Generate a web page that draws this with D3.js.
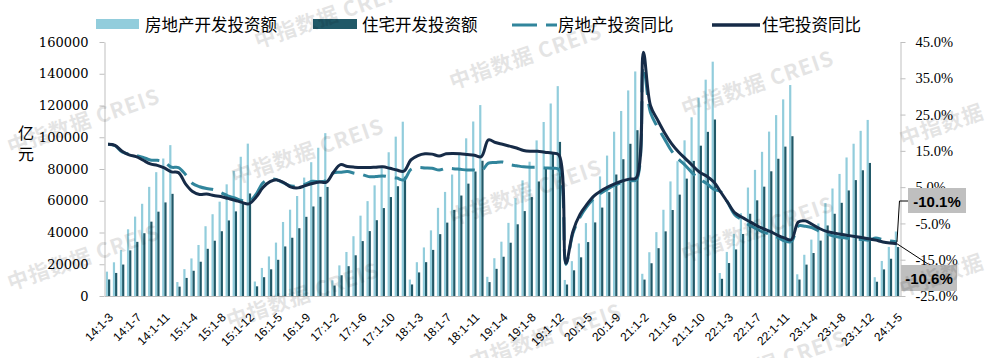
<!DOCTYPE html>
<html><head><meta charset="utf-8">
<script src="https://cdn.jsdelivr.net/npm/d3@7/dist/d3.min.js"></script>
<style>body{margin:0;background:#fff}svg{display:block}</style>
</head><body>
<svg id="chart" width="987" height="358"></svg>
<script>
// ---------- DATA ----------
const categories = [
 "14:1-3","14:1-4","14:1-5","14:1-6","14:1-7","14:1-8","14:1-9","14:1-10","14:1-11","14:1-12",
 "15:1-2","15:1-3","15:1-4","15:1-5","15:1-6","15:1-7","15:1-8","15:1-9","15:1-10","15:1-11","15:1-12",
 "16:1-2","16:1-3","16:1-4","16:1-5","16:1-6","16:1-7","16:1-8","16:1-9","16:1-10","16:1-11","16:1-12",
 "17:1-2","17:1-3","17:1-4","17:1-5","17:1-6","17:1-7","17:1-8","17:1-9","17:1-10","17:1-11","17:1-12",
 "18:1-2","18:1-3","18:1-4","18:1-5","18:1-6","18:1-7","18:1-8","18:1-9","18:1-10","18:1-11","18:1-12",
 "19:1-2","19:1-3","19:1-4","19:1-5","19:1-6","19:1-7","19:1-8","19:1-9","19:1-10","19:1-11","19:1-12",
 "20:1-2","20:1-3","20:1-4","20:1-5","20:1-6","20:1-7","20:1-8","20:1-9","20:1-10","20:1-11","20:1-12",
 "21:1-2","21:1-3","21:1-4","21:1-5","21:1-6","21:1-7","21:1-8","21:1-9","21:1-10","21:1-11","21:1-12",
 "22:1-2","22:1-3","22:1-4","22:1-5","22:1-6","22:1-7","22:1-8","22:1-9","22:1-10","22:1-11","22:1-12",
 "23:1-2","23:1-3","23:1-4","23:1-5","23:1-6","23:1-7","23:1-8","23:1-9","23:1-10","23:1-11","23:1-12",
 "24:1-2","24:1-3","24:1-4","24:1-5"
];
const xTickLabels = ["14:1-3","14:1-7","14:1-11","15:1-4","15:1-8","15:1-12","16:1-5","16:1-9","17:1-2","17:1-6","17:1-10","18:1-3","18:1-7","18:1-11","19:1-4","19:1-8","19:1-12","20:1-5","20:1-9","21:1-2","21:1-6","21:1-10","22:1-3","22:1-7","22:1-11","23:1-4","23:1-8","23:1-12","24:1-5"];
// 房地产开发投资额 (亿元)
const realEstateInvest = [
 15339,21222,28938,42019,50009,58083,68751,78001,86601,95036,
 8786,16914,23669,32140,43955,51517,59422,70339,78824,87702,95979,
 9116,17677,24921,33640,46631,54366,62982,74598,84285,93387,102581,
 9854,19292,27732,37658,50610,59761,69694,80644,90544,100387,109799,
 10357,21291,30592,41349,55531,65565,76519,88948,99325,109921,120264,
 12090,23803,34217,46075,61609,72843,84589,98008,109603,121265,132194,
 10115,21963,33103,45920,62780,75325,88454,103484,116556,129492,141443,
 13986,27576,40240,54318,72179,84895,98060,112568,124934,136275,147602,
 14499,27765,39154,52134,68314,79462,90809,103559,113945,123863,132895,
 13669,25974,35514,45701,58550,67717,76900,87269,95922,104045,110913,
 11842,22082,30928,40632
];
// 住宅开发投资额 (亿元)
const residentialInvest = [
 10419,14522,19812,28751,34106,39547,46833,53123,58946,64352,
 5899,11382,15897,21588,29730,34826,40800,47600,53300,58500,64595,
 6092,11846,16800,22800,31216,36700,42700,49877,56400,62470,68704,
 6580,13062,18783,25644,34589,40877,47749,55383,62327,69150,75148,
 7266,14843,21316,29042,38962,46225,54238,63285,70783,78407,85192,
 8763,17111,24728,33557,45167,53483,62315,72146,80801,89409,97071,
 7241,16177,24362,33970,46350,55706,65454,76530,86155,95880,104446,
 10332,20624,30120,40719,54167,63853,73941,85120,94695,103400,111173,
 10830,20761,29332,39068,51804,60263,68878,78556,86451,94094,100646,
 10363,19767,27072,34897,44439,51800,58700,66500,73000,79200,83820,
 8980,16747,23465,30824
];
// 房地产投资同比 (%)
const realEstateYoY = [
 16.8,16.4,14.7,14.1,13.7,13.2,12.5,12.4,11.9,10.5,
 10.4,8.5,6.0,5.1,4.6,4.3,3.5,2.6,2.0,1.3,1.0,
 3.0,6.2,7.2,7.0,6.1,5.3,5.4,5.8,6.6,6.5,6.9,
 8.9,9.1,9.3,8.8,8.5,7.9,7.9,8.1,7.8,7.5,7.0,
 9.9,10.4,10.3,10.2,9.7,10.2,10.1,9.9,9.7,9.7,9.5,
 11.6,11.8,11.9,11.2,10.9,10.6,10.5,10.5,10.3,10.2,9.9,
 -16.3,-7.7,-3.3,-0.3,1.9,3.4,4.6,5.6,6.3,6.8,7.0,
 38.3,25.6,21.6,18.3,15.0,12.7,10.9,8.8,7.2,6.0,4.4,
 3.7,0.7,-2.7,-4.0,-5.4,-6.4,-7.4,-8.0,-8.8,-9.8,-10.0,
 -5.7,-5.8,-6.2,-7.2,-7.9,-8.5,-8.8,-9.1,-9.3,-9.4,-9.6,
 -9.0,-9.5,-9.8,-10.1
];
// 住宅投资同比 (%)
const residentialYoY = [
 16.8,16.5,14.9,13.9,13.4,12.4,11.4,11.0,10.3,9.2,
 9.0,5.9,3.8,3.0,3.1,2.7,2.4,1.9,1.4,0.8,0.4,
 2.2,4.9,6.5,7.0,6.2,5.0,4.8,5.4,6.0,6.4,6.4,
 9.1,11.2,10.7,10.5,10.4,10.4,10.5,10.6,10.2,9.7,9.4,
 12.5,13.7,14.2,14.1,13.6,14.2,14.3,14.2,14.0,13.8,13.4,
 18.0,17.3,16.8,16.3,15.8,15.1,14.9,14.9,14.6,14.4,13.9,
 -16.0,-7.2,-2.5,0.3,2.6,4.0,5.1,6.0,6.7,7.2,7.6,
 42.2,27.5,23.6,20.0,17.0,14.7,12.8,10.9,9.1,8.0,6.4,
 3.6,0.7,-2.1,-3.3,-4.4,-5.5,-6.4,-7.2,-8.2,-9.0,-9.5,
 -4.6,-4.3,-5.3,-6.4,-7.2,-7.6,-8.0,-8.3,-8.6,-8.9,-9.2,
 -9.6,-10.1,-10.4,-10.6
];
const leftTicks = [0,20000,40000,60000,80000,100000,120000,140000,160000];
const rightTicks = [-25,-15,-5,5,15,25,35,45];
const seriesNames = ["房地产开发投资额","住宅开发投资额","房地产投资同比","住宅投资同比"];
const unitLabel = ["亿","元"];
const endLabels = ["-10.1%","-10.6%"];
const watermarkText = "中指数据 CREIS";

// ---------- STYLE ----------
const C = {light:"#92cddc", dark:"#215968", dash:"#31859c", solid:"#162b47", axis:"#bfbfbf"};
const svg = d3.select("#chart");
const X0 = 104.5, X1 = 900.5, YB = 296, YT = 42;

const x = d3.scaleBand().domain(categories).range([X0, X1]).padding(0);
const yL = d3.scaleLinear().domain([0,160000]).range([YB, YT]);
const yR = d3.scaleLinear().domain([-25,45]).range([YB, YT]);
const bw = 2.2;
const cx = d => x(d) + x.bandwidth()/2;

// watermarks (behind)
const wm = [[83,120],[307,150],[525,55],[757,82],[975,112],[83,256],[302,294],[525,191],[757,228],[975,262],[330,14],[545,335],[770,362]];

// bars
const rows = categories.map((c,i)=>({c, a:realEstateInvest[i], b:residentialInvest[i], p:realEstateYoY[i], q:residentialYoY[i]}));
const gBars = svg.append("g");
gBars.selectAll("rect.l").data(rows).join("rect").attr("class","l")
  .attr("x", d=>cx(d.c)-bw).attr("width", bw)
  .attr("y", d=>yL(d.a)).attr("height", d=>YB-yL(d.a)).attr("fill", C.light);
gBars.selectAll("rect.d").data(rows).join("rect").attr("class","d")
  .attr("x", d=>cx(d.c)).attr("width", bw)
  .attr("y", d=>yL(d.b)).attr("height", d=>YB-yL(d.b)).attr("fill", C.dark);

// axes
const axL = svg.append("g").attr("transform",`translate(${X0},0)`)
  .call(d3.axisLeft(yL).tickValues(leftTicks).tickSize(5).tickSizeOuter(0).tickPadding(11).tickFormat(d3.format("d")));
axL.select(".domain").attr("stroke", C.axis);
axL.selectAll(".tick line").attr("stroke", C.axis);
axL.selectAll("text").attr("font-family","'DejaVu Serif',serif").attr("font-size","13px").attr("fill","#000");

const axR = svg.append("g").attr("transform",`translate(${X1},0)`)
  .call(d3.axisRight(yR).tickValues(rightTicks).tickSize(5).tickSizeOuter(0).tickPadding(10).tickFormat(d=>d.toFixed(1)+"%"));
axR.select(".domain").attr("stroke", C.axis);
axR.selectAll(".tick line").attr("stroke", C.axis);
axR.selectAll("text").attr("font-family","'Liberation Serif',serif").attr("font-size","14.5px").attr("fill","#000");

const axB = svg.append("g").attr("transform",`translate(0,${YB})`)
  .call(d3.axisBottom(x).tickValues(xTickLabels).tickSize(0).tickSizeOuter(0));
axB.select(".domain").attr("stroke", C.axis);
axB.selectAll("text").attr("font-family","'Liberation Sans',sans-serif").attr("font-size","12px").attr("fill","#000")
  .attr("text-anchor","end").attr("x",0).attr("y",0).attr("dy","0.35em")
  .attr("transform","translate(3,19) rotate(-45)");

// unit label
svg.append("g").selectAll("text").data(unitLabel).join("text")
  .attr("x",26).attr("y",(d,i)=>132+i*21).attr("text-anchor","middle").attr("dominant-baseline","central")
  .attr("font-family","'Noto Sans CJK SC',sans-serif").attr("font-size","16px").text(d=>d);

// lines
const curve = d3.curveCatmullRom.alpha(0.5);
const lineP = d3.line().x(d=>cx(d.c)).y(d=>yR(d.p)).curve(curve);
const lineQ = d3.line().x(d=>cx(d.c)).y(d=>yR(d.q)).curve(curve);
svg.append("path").datum(rows).attr("d",lineP).attr("fill","none").attr("stroke",C.dash)
  .attr("stroke-width",3).attr("stroke-dasharray","23 9");
svg.append("path").datum(rows).attr("d",lineQ).attr("fill","none").attr("stroke",C.solid)
  .attr("stroke-width",3).attr("stroke-linejoin","round");

// end labels
const last = rows[rows.length-1];
const lx = cx(last.c);
const ann = svg.append("g");
ann.append("path").attr("d",`M${lx},${yR(last.p)}L${lx+2.5},201L908,201`).attr("fill","none").attr("stroke","#000").attr("stroke-width",1);
ann.append("path").attr("d",`M${lx},${yR(last.q)}L928,264`).attr("fill","none").attr("stroke","#000").attr("stroke-width",1);
ann.append("rect").attr("x",908).attr("y",188).attr("width",58).attr("height",25).attr("fill","#bfbfbf");
ann.append("rect").attr("x",901).attr("y",265).attr("width",56).attr("height",26).attr("fill","#bfbfbf");
ann.selectAll("text").data([[937,201,endLabels[0]],[929,278,endLabels[1]]]).join("text")
  .attr("x",d=>d[0]).attr("y",d=>d[1]).attr("text-anchor","middle").attr("dominant-baseline","central")
  .attr("font-family","'Liberation Sans',sans-serif").attr("font-weight","bold").attr("font-size","15px").text(d=>d[2]);

// legend
const lg = svg.append("g").attr("font-family","'Noto Sans CJK SC',sans-serif").attr("font-size","16.5px");
lg.append("rect").attr("x",96).attr("y",19).attr("width",43).attr("height",10).attr("fill",C.light);
lg.append("text").attr("x",145).attr("y",23.5).attr("dominant-baseline","central").text(seriesNames[0]);
lg.append("rect").attr("x",313).attr("y",19).attr("width",44).attr("height",10).attr("fill",C.dark);
lg.append("text").attr("x",362).attr("y",23.5).attr("dominant-baseline","central").text(seriesNames[1]);
lg.append("line").attr("x1",512).attr("x2",557).attr("y1",25).attr("y2",25).attr("stroke",C.dash).attr("stroke-width",3).attr("stroke-dasharray","25 9");
lg.append("text").attr("x",558).attr("y",23.5).attr("dominant-baseline","central").text(seriesNames[2]);
lg.append("line").attr("x1",712).attr("x2",760).attr("y1",25).attr("y2",25).attr("stroke",C.solid).attr("stroke-width",3.5);
lg.append("text").attr("x",762).attr("y",23.5).attr("dominant-baseline","central").text(seriesNames[3]);

// watermark overlay
svg.append("g").attr("pointer-events","none").selectAll("text").data(wm).join("text")
  .attr("transform",d=>`translate(${d[0]},${d[1]}) rotate(-19)`)
  .attr("text-anchor","middle").attr("dominant-baseline","central")
  .attr("font-family","'Noto Sans CJK SC',sans-serif").attr("font-weight","bold").attr("font-size","21px")
  .attr("letter-spacing","1px").attr("fill","#000").attr("opacity",0.1).text(watermarkText);
</script>
</body></html>
